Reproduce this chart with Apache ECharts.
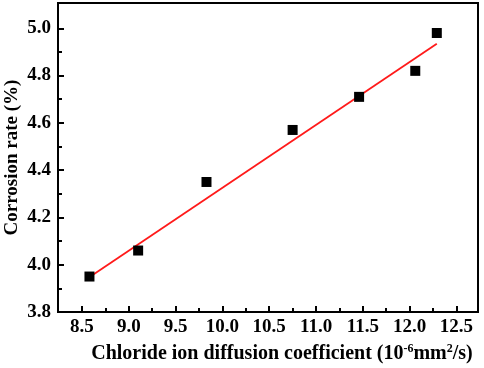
<!DOCTYPE html>
<html>
<head>
<meta charset="utf-8">
<script src="https://cdn.jsdelivr.net/npm/echarts@6/dist/echarts.min.js"></script>
<style>
  html, body { margin: 0; padding: 0; background: #fff; }
  #chart { width: 484px; height: 368px; }
</style>
</head>
<body>
<div id="chart"></div>
<script>
var dom = document.getElementById('chart');
var myChart = echarts.init(dom, null, { renderer: 'canvas' });

// measured points
const diffusion = [8.58, 9.1, 9.83, 10.75, 11.46, 12.06, 12.29];
const corrosion = [3.95, 4.06, 4.35, 4.57, 4.71, 4.82, 4.98];
// fitted line (end points)
const fitX = [8.57, 12.29];
const fitY = [3.945, 4.935];

const xMajor = [8.5, 9.0, 9.5, 10.0, 10.5, 11.0, 11.5, 12.0, 12.5];
const xMinor = [8.75, 9.25, 9.75, 10.25, 10.75, 11.25, 11.75, 12.25];
const yMajor = [3.8, 4.0, 4.2, 4.4, 4.6, 4.8, 5.0];
const yMinor = [3.9, 4.1, 4.3, 4.5, 4.7, 4.9];

const font = 'Liberation Serif';
const xMin = 8.244, xMax = 12.73;
const yMin = 3.8, yMax = 5.107;

var option = {
  animation: false,
  grid: {
    left: 58, top: 3, right: 6, bottom: 56,
    outerBoundsMode: 'none', containLabel: false,
    show: true, borderColor: '#000', borderWidth: 2, backgroundColor: 'transparent'
  },
  xAxis: [
    {
      type: 'value', min: xMin, max: xMax,
      splitLine: { show: false },
      axisLine: { lineStyle: { color: '#000', width: 2 } },
      axisTick: { inside: true, length: 6, lineStyle: { color: '#000', width: 2 }, customValues: xMajor },
      axisLabel: {
        customValues: xMajor, margin: 6, color: '#000',
        fontFamily: font, fontWeight: 'bold', fontSize: 19,
        formatter: v => v.toFixed(1)
      },
      name: '{a|Chloride ion diffusion coefficient (10}{s|-6}{a|mm}{s|2}{a|/s)}',
      nameLocation: 'middle', nameGap: 31, nameMoveOverlap: false,
      nameTextStyle: {
        padding: [0, 0, 0, 28],
        rich: {
          a: { fontFamily: font, fontWeight: 'bold', fontSize: 20, color: '#000' },
          s: { fontFamily: font, fontWeight: 'bold', fontSize: 12, color: '#000', verticalAlign: 'top', padding: [0, 0, 10, 0] }
        }
      }
    },
    {
      type: 'value', min: xMin, max: xMax, gridIndex: 0, position: 'bottom',
      splitLine: { show: false },
      axisLine: { show: false },
      axisTick: { inside: true, length: 4, lineStyle: { color: '#000', width: 2 }, customValues: xMinor },
      axisLabel: { show: false }
    }
  ],
  yAxis: [
    {
      type: 'value', min: yMin, max: yMax,
      splitLine: { show: false },
      axisLine: { lineStyle: { color: '#000', width: 2 } },
      axisTick: { inside: true, length: 6, lineStyle: { color: '#000', width: 2 }, customValues: yMajor },
      axisLabel: {
        customValues: yMajor, margin: 7, color: '#000',
        fontFamily: font, fontWeight: 'bold', fontSize: 19,
        formatter: v => v.toFixed(1)
      },
      name: 'Corrosion rate (%)',
      nameLocation: 'middle', nameGap: 36, nameMoveOverlap: false,
      nameTextStyle: { fontFamily: font, fontWeight: 'bold', fontSize: 19, color: '#000' }
    },
    {
      type: 'value', min: yMin, max: yMax, position: 'left',
      splitLine: { show: false },
      axisLine: { show: false },
      axisTick: { inside: true, length: 4, lineStyle: { color: '#000', width: 2 }, customValues: yMinor },
      axisLabel: { show: false }
    }
  ],
  series: [
    {
      name: 'Fit', type: 'line',
      data: fitX.map((x, i) => [x, fitY[i]]),
      showSymbol: false,
      lineStyle: { color: '#ff1a1a', width: 1.8 },
      z: 2
    },
    {
      name: 'Data', type: 'scatter',
      data: diffusion.map((x, i) => [x, corrosion[i]]),
      symbol: 'rect', symbolSize: 10,
      itemStyle: { color: '#000', opacity: 1 },
      z: 3
    }
  ]
};

myChart.setOption(option);
window.addEventListener('resize', myChart.resize);
</script>
</body>
</html>
